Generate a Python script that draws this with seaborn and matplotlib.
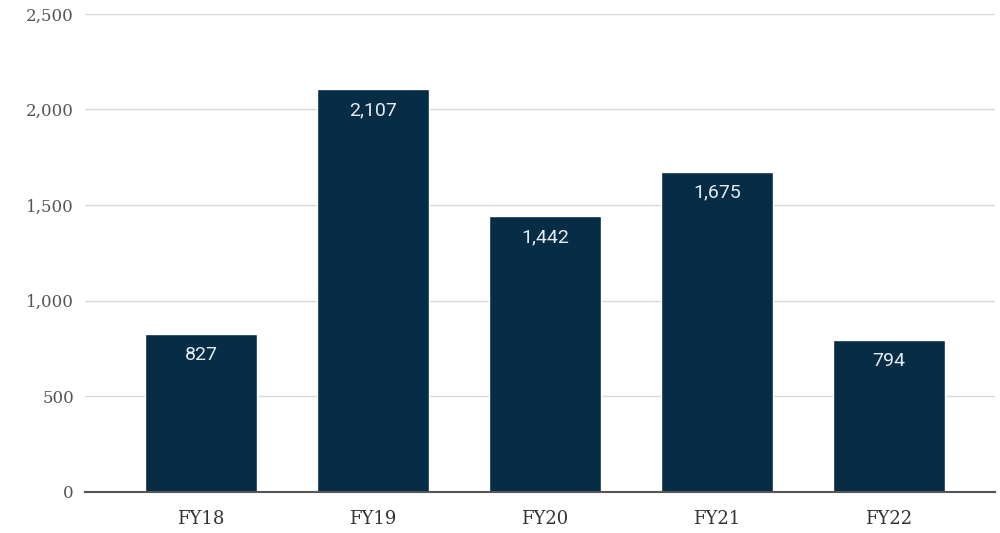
import matplotlib
matplotlib.use("Agg")
import matplotlib.pyplot as plt
import seaborn as sns
import pandas as pd

years = ['FY18', 'FY19', 'FY20', 'FY21', 'FY22']
counts = [827, 2107, 1442, 1675, 794]
yticks = [0, 500, 1000, 1500, 2000, 2500]

sns.set_style('white')
plt.rcParams['font.family'] = ['DejaVu Serif']

df = pd.DataFrame({'year': years, 'count': counts})

fig = plt.figure(figsize=(10, 5.33), dpi=100)
ax = fig.add_axes([0.085, 0.077, 0.91, 0.897])
sns.barplot(x='year', y='count', data=df, color='#072c46', saturation=1,
            width=0.65, ax=ax, zorder=3)

# value labels inside the bars
for i, v in enumerate(counts):
    ax.text(i, v - 110, '{:,}'.format(v), ha='center', va='center', color='#e4ecf2',
            fontsize=14, family=['Roboto', 'DejaVu Sans'], zorder=4)

ax.set_ylim(0, 2500)
ax.set_xlim(-0.674, 4.616)
ax.set_yticks(yticks)
ax.set_yticklabels(['{:,}'.format(t) for t in yticks])
ax.set_xlabel('')
ax.set_ylabel('')
ax.yaxis.grid(color='#d9d9d9', linewidth=1)
ax.set_axisbelow(True)
for s in ['top', 'right', 'left']:
    ax.spines[s].set_visible(False)
ax.spines['bottom'].set_color('#555555')
ax.spines['bottom'].set_linewidth(1.5)
ax.spines['bottom'].set_zorder(5)
ax.tick_params(axis='y', length=0, pad=8, labelsize=12, labelcolor='#555555')
ax.tick_params(axis='x', length=0, pad=13, labelsize=13, labelcolor='#333333')

fig.savefig('out.png', dpi=100)
